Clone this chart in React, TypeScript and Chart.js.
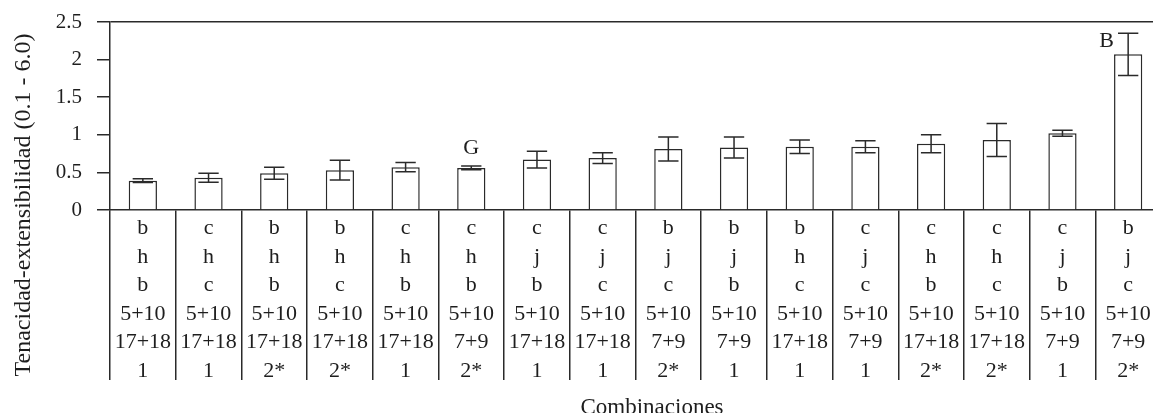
import React, { useEffect, useRef } from 'react';
import { Chart, registerables } from 'chart.js';

Chart.register(...registerables);

// Table rows (one entry per combination)
const rowGlu1 = ['b', 'c', 'b', 'b', 'c', 'c', 'c', 'c', 'b', 'b', 'b', 'c', 'c', 'c', 'c', 'b'];
const rowGlu2 = ['h', 'h', 'h', 'h', 'h', 'h', 'j', 'j', 'j', 'j', 'h', 'j', 'h', 'h', 'j', 'j'];
const rowGlu3 = ['b', 'c', 'b', 'c', 'b', 'b', 'b', 'c', 'c', 'b', 'c', 'c', 'b', 'c', 'b', 'c'];
const rowD = ['5+10', '5+10', '5+10', '5+10', '5+10', '5+10', '5+10', '5+10', '5+10', '5+10', '5+10', '5+10', '5+10', '5+10', '5+10', '5+10'];
const rowB = ['17+18', '17+18', '17+18', '17+18', '17+18', '7+9', '17+18', '17+18', '7+9', '7+9', '17+18', '7+9', '17+18', '17+18', '7+9', '7+9'];
const rowA = ['1', '1', '2*', '2*', '1', '2*', '1', '1', '2*', '1', '1', '1', '2*', '2*', '1', '2*'];

// Series values
const means = [0.39, 0.43, 0.49, 0.53, 0.57, 0.56, 0.67, 0.69, 0.81, 0.83, 0.84, 0.84, 0.88, 0.93, 1.02, 2.07];
const errors = [0.025, 0.06, 0.08, 0.13, 0.06, 0.025, 0.11, 0.07, 0.16, 0.14, 0.09, 0.08, 0.12, 0.22, 0.04, 0.28];
const groupLetters = ['', '', '', '', '', 'G', '', '', '', '', '', '', '', '', '', 'B'];

// Axis
const yTicks = [0, 0.5, 1, 1.5, 2, 2.5];
const yTitle = 'Tenacidad-extensibilidad (0.1 - 6.0)';
const xTitle = 'Combinaciones';

const FONT = "'Liberation Serif', 'Times New Roman', serif";
const INK = '#1e1e1e';
const LINE = '#2a2a2a';

const labels = rowGlu1.map((_, i) => [rowGlu1[i], rowGlu2[i], rowGlu3[i], rowD[i], rowB[i], rowA[i]]);

const errorBarPlugin = {
  id: 'errorBars',
  afterDatasetsDraw(chart: any) {
    const { ctx, chartArea } = chart;
    const y = chart.scales.y;
    const meta = chart.getDatasetMeta(0);
    ctx.save();
    ctx.strokeStyle = LINE;
    ctx.lineWidth = 1.5;
    meta.data.forEach((bar: any, i: number) => {
      const x = bar.x;
      const top = y.getPixelForValue(means[i] + errors[i]);
      const bot = y.getPixelForValue(means[i] - errors[i]);
      const half = bar.width * 0.36;
      ctx.beginPath();
      ctx.moveTo(x, top);
      ctx.lineTo(x, bot);
      ctx.moveTo(x - half, top);
      ctx.lineTo(x + half, top);
      ctx.moveTo(x - half, bot);
      ctx.lineTo(x + half, bot);
      ctx.stroke();
      const letter = groupLetters[i];
      if (letter) {
        ctx.fillStyle = INK;
        ctx.font = `22px ${FONT}`;
        ctx.textBaseline = 'alphabetic';
        if (top - chartArea.top < 30) {
          ctx.textAlign = 'right';
          ctx.fillText(letter, x - half - 4, top + 14);
        } else {
          ctx.textAlign = 'center';
          ctx.fillText(letter, x, top - 12);
        }
      }
    });
    ctx.restore();
  },
};

const titlesPlugin = {
  id: 'axisTitles',
  afterDraw(chart: any) {
    const { ctx } = chart;
    ctx.save();
    ctx.fillStyle = INK;
    ctx.textBaseline = 'alphabetic';
    ctx.textAlign = 'center';
    ctx.font = `23px ${FONT}`;
    ctx.fillText(xTitle, 652, 414);
    ctx.translate(30, 205);
    ctx.rotate(-Math.PI / 2);
    ctx.font = `24px ${FONT}`;
    ctx.fillText(yTitle, 0, 0);
    ctx.restore();
  },
};

export default function App() {
  const ref = useRef<HTMLCanvasElement | null>(null);
  useEffect(() => {
    document.body.style.margin = '0';
    const canvas = ref.current;
    if (!canvas) return;
    const chart = new Chart(canvas, {
      type: 'bar',
      data: {
        labels,
        datasets: [
          {
            data: means,
            backgroundColor: '#ffffff',
            borderColor: LINE,
            borderWidth: 1.5,
            barPercentage: 0.43,
            categoryPercentage: 1,
          },
        ],
      },
      options: {
        responsive: false,
        animation: false,
        devicePixelRatio: 1,
        layout: { padding: { left: 0, right: 14, top: 22, bottom: 0 } },
        plugins: {
          legend: { display: false },
          tooltip: { enabled: false },
          title: { display: false },
        },
        scales: {
          x: {
            type: 'category',
            offset: true,
            afterFit: (s: any) => {
              s.height = 203;
              s.paddingLeft = 0;
              s.paddingRight = 0;
            },
            grid: {
              display: true,
              offset: true,
              drawOnChartArea: false,
              drawTicks: true,
              tickLength: 170,
              color: LINE,
              lineWidth: 1.5,
            },
            border: { display: true, color: LINE, width: 1.5 },
            ticks: {
              autoSkip: false,
              maxRotation: 0,
              minRotation: 0,
              padding: -166,
              color: INK,
              font: { family: FONT, size: 22, lineHeight: 1.3 },
            },
          },
          y: {
            min: 0,
            max: 2.5,
            afterFit: (s: any) => {
              s.width = 110;
              s.paddingTop = 0;
              s.paddingBottom = 0;
            },
            afterBuildTicks: (s: any) => {
              s.ticks = yTicks.map((v) => ({ value: v }));
            },
            grid: {
              display: true,
              drawOnChartArea: true,
              drawTicks: true,
              tickLength: 13,
              color: (c: any) => (c.tick && c.tick.value === 2.5 ? LINE : 'rgba(0,0,0,0)'),
              tickColor: LINE,
              lineWidth: 1.5,
            },
            border: { display: true, color: LINE, width: 1.5 },
            ticks: {
              padding: 15,
              color: INK,
              font: { family: FONT, size: 21 },
              callback: (v: any) => String(v),
            },
          },
        },
      },
      plugins: [errorBarPlugin, titlesPlugin],
    });
    return () => chart.destroy();
  }, []);

  return (
    <div
      style={{
        position: 'fixed',
        left: 0,
        top: 0,
        width: 1153,
        height: 413,
        overflow: 'hidden',
        background: '#ffffff',
      }}
    >
      <canvas ref={ref} width={1175} height={413} style={{ display: 'block', width: 1175, height: 413 }} />
    </div>
  );
}
